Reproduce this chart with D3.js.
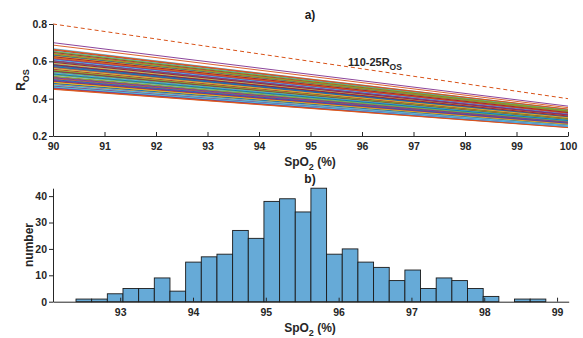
<!DOCTYPE html>
<html>
<head>
<meta charset="utf-8">
<script src="https://cdn.jsdelivr.net/npm/d3@7"></script>
<style>
  body { margin: 0; background: #fff; }
  svg { display: block; font-family: "Liberation Sans", Arial, sans-serif; font-weight: bold; }
  .axis path, .axis line { stroke: #262626; }
  .axis text { fill: #262626; font-size: 10.5px; font-weight: bold; font-family: "Liberation Sans", Arial, sans-serif; }
</style>
</head>
<body>
<svg id="chart" width="583" height="338"></svg>
<script>
// Panel a: R_OS of each calibration line at SpO2 = 90 and at SpO2 = 100
const rAt90 = [
  0.580, 0.520, 0.630, 0.700, 0.490, 0.668, 0.550,
  0.610, 0.687, 0.470, 0.600, 0.535, 0.645, 0.455,
  0.565, 0.505, 0.655, 0.480, 0.620, 0.590, 0.540,
  0.460, 0.575, 0.640, 0.515, 0.595, 0.500, 0.660,
  0.545, 0.625, 0.485, 0.570, 0.650, 0.510, 0.605,
  0.585, 0.450, 0.530, 0.615, 0.465, 0.560, 0.635,
  0.495, 0.662, 0.555, 0.475, 0.600, 0.525, 0.648,
  0.578, 0.508, 0.622, 0.458, 0.542, 0.590, 0.492,
  0.632, 0.568, 0.478, 0.612, 0.528, 0.655, 0.548,
  0.502, 0.642, 0.588, 0.468, 0.518, 0.608, 0.558,
  0.572, 0.452, 0.628, 0.498, 0.652, 0.538, 0.595,
  0.482, 0.618, 0.562, 0.512, 0.638, 0.472, 0.582,
  0.532, 0.665, 0.488, 0.602, 0.552, 0.462, 0.625
];
const rAt100 = [
  0.305, 0.279, 0.326, 0.360, 0.262, 0.343, 0.292,
  0.319, 0.352, 0.255, 0.312, 0.286, 0.333, 0.248,
  0.297, 0.272, 0.338, 0.259, 0.322, 0.311, 0.285,
  0.250, 0.303, 0.331, 0.276, 0.310, 0.268, 0.340,
  0.289, 0.325, 0.262, 0.301, 0.336, 0.273, 0.316,
  0.306, 0.245, 0.282, 0.321, 0.252, 0.296, 0.329,
  0.266, 0.342, 0.293, 0.257, 0.314, 0.280, 0.335,
  0.304, 0.271, 0.324, 0.249, 0.288, 0.309, 0.264,
  0.328, 0.299, 0.258, 0.320, 0.281, 0.339, 0.290,
  0.269, 0.334, 0.308, 0.253, 0.277, 0.318, 0.294,
  0.300, 0.246, 0.327, 0.267, 0.337, 0.284, 0.313,
  0.260, 0.323, 0.298, 0.274, 0.332, 0.256, 0.307,
  0.283, 0.344, 0.263, 0.315, 0.291, 0.251, 0.326
];
// reference line SpO2 = 110 - 25 R_OS
const refSpO2 = [90, 100];
const refR = [0.8, 0.4];

const spo2TicksA = [90, 91, 92, 93, 94, 95, 96, 97, 98, 99, 100];
const rTicks = [0.2, 0.4, 0.6, 0.8];

// Panel b: histogram of SpO2
const binStart = 92.393;
const binWidth = 0.2151;
const counts = [1, 1, 3, 5, 5, 9, 4, 15, 17, 18, 27, 24, 38, 39, 34, 43,
                18, 20, 15, 13, 8, 12, 5, 9, 8, 5, 2, 0, 1, 1];
const spo2TicksB = [93, 94, 95, 96, 97, 98, 99];
const countTicks = [0, 10, 20, 30, 40];

const matlabColors = ['#0072BD', '#D95319', '#EDB120', '#7E2F8E', '#77AC30', '#4DBEEE', '#A2142F'];

const svg = d3.select('#chart');

// ---------- panel a ----------
const xa = d3.scaleLinear().domain([90, 100]).range([53, 568]);
const ya = d3.scaleLinear().domain([0.2, 0.8]).range([136, 24]);

const lineGen = d3.line().x(d => xa(d[0])).y(d => ya(d[1]));

svg.append('g').selectAll('path')
  .data(rAt90.map((r, i) => [[90, r], [100, rAt100[i]]]))
  .enter().append('path')
  .attr('d', lineGen)
  .attr('fill', 'none')
  .attr('stroke', (d, i) => matlabColors[i % 7])
  .attr('stroke-width', 0.9);

svg.append('path')
  .attr('d', lineGen(refSpO2.map((s, i) => [s, refR[i]])))
  .attr('fill', 'none')
  .attr('stroke', '#D95319')
  .attr('stroke-width', 1)
  .attr('stroke-dasharray', '4,3');

svg.append('g').attr('class', 'axis')
  .attr('transform', 'translate(0,136)')
  .call(d3.axisBottom(xa).tickValues(spo2TicksA).tickFormat(d3.format('d'))
    .tickSizeInner(-4).tickSizeOuter(0).tickPadding(7));

svg.append('g').attr('class', 'axis')
  .attr('transform', 'translate(53,0)')
  .call(d3.axisLeft(ya).tickValues(rTicks).tickFormat(d3.format('.1f'))
    .tickSizeInner(4).tickSizeOuter(0).tickPadding(2));

const lab = svg.append('text')
  .attr('x', 348).attr('y', 66)
  .attr('font-size', 11).attr('fill', '#262626');
lab.append('tspan').text('110-25R');
lab.append('tspan').attr('dy', 4).attr('font-size', 8.5).text('OS');

svg.append('text').attr('x', 310).attr('y', 19)
  .attr('text-anchor', 'middle').attr('font-size', 12).attr('fill', '#1a1a1a').text('a)');

function spo2Label(y) {
  const t = svg.append('text').attr('x', 310).attr('y', y)
    .attr('text-anchor', 'middle').attr('font-size', 12).attr('fill', '#262626');
  t.append('tspan').text('SpO');
  t.append('tspan').attr('dy', 4).attr('font-size', 9).text('2');
  t.append('tspan').attr('dy', -4).text(' (%)');
}
spo2Label(166);

const yl = svg.append('text')
  .attr('transform', 'translate(25,80) rotate(-90)')
  .attr('text-anchor', 'middle').attr('font-size', 12).attr('fill', '#262626');
yl.append('tspan').text('R');
yl.append('tspan').attr('dy', 4).attr('font-size', 9).text('OS');

// ---------- panel b ----------
const xb = d3.scaleLinear().domain([92.077, 99.16]).range([53, 568.7]);
const yb = d3.scaleLinear().domain([0, 43]).range([301.7, 188.2]);

svg.append('g').selectAll('rect')
  .data(counts)
  .enter().append('rect')
  .attr('x', (d, i) => xb(binStart + i * binWidth))
  .attr('width', (d, i) => xb(binStart + (i + 1) * binWidth) - xb(binStart + i * binWidth))
  .attr('y', d => yb(d))
  .attr('height', d => yb(0) - yb(d))
  .attr('fill', '#66AAD7')
  .attr('stroke', '#1a1a1a')
  .attr('stroke-width', 0.9)
  .style('display', d => d > 0 ? null : 'none');

svg.append('g').attr('class', 'axis')
  .attr('transform', 'translate(0,301.7)')
  .call(d3.axisBottom(xb).tickValues(spo2TicksB).tickFormat(d3.format('d'))
    .tickSizeInner(-4).tickSizeOuter(0).tickPadding(7));

svg.append('g').attr('class', 'axis')
  .attr('transform', 'translate(53,0)')
  .call(d3.axisLeft(yb).tickValues(countTicks)
    .tickSizeInner(4).tickSizeOuter(0).tickPadding(2));

svg.append('text').attr('x', 310).attr('y', 183)
  .attr('text-anchor', 'middle').attr('font-size', 12).attr('fill', '#1a1a1a').text('b)');

spo2Label(332);

svg.append('text')
  .attr('transform', 'translate(33,245) rotate(-90)')
  .attr('text-anchor', 'middle').attr('font-size', 12).attr('fill', '#262626')
  .text('number');
</script>
</body>
</html>
